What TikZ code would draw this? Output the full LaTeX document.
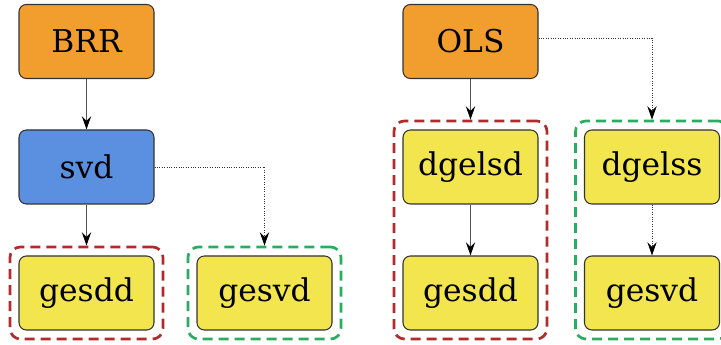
\documentclass[tikz,border=0pt]{standalone}
\usepackage{fontspec}
\setmainfont{DejaVu Serif}
\usetikzlibrary{arrows.meta,fit}
\definecolor{boxorange}{HTML}{F29E2E}
\definecolor{boxblue}{HTML}{5B8FE0}
\definecolor{boxyellow}{HTML}{F2E54E}
\definecolor{grpred}{HTML}{B22B2B}
\definecolor{grpgreen}{HTML}{28AE5E}
\definecolor{edgegray}{HTML}{555555}
\tikzset{
	func/.style={draw={black!80},line width=0.8pt,rounded corners=5.5pt,minimum width=101.25pt,minimum height=55.5pt,font=\fontsize{23.5}{28}\selectfont},
	grp/.style={draw=#1,line width=2pt,dash pattern=on 7.5pt off 4.5pt,rounded corners=8pt,inner sep=6.4pt},
	link/.style={-{Stealth[length=10pt,width=7pt,inset=3.5pt,black]},edgegray,line width=0.8pt},
	weak/.style={link,densely dotted,line width=0.6pt,black!80},
}
\begin{document}
\begin{tikzpicture}[x=0.75pt,y=-0.75pt]
	\useasboundingbox (0,0) rectangle (721,345);
	\clip (0,0) rectangle (721,345);

	\node[func,fill=boxorange] (BRR) at (86.5,41.5) {BRR};
	\node[func,fill=boxblue] (svd) at (86.5,167) {svd};
	\node[func,fill=boxyellow] (gesddA) at (86.5,293) {gesdd};
	\node[func,fill=boxyellow] (gesvdA) at (264.5,293) {gesvd};
	\node[grp=grpred,fit=(gesddA)] (redA) {};
	\node[grp=grpgreen,fit=(gesvdA)] (greenA) {};

	\node[func,fill=boxorange] (OLS) at (470.5,41.5) {OLS};
	\node[func,fill=boxyellow] (dgelsd) at (470.5,167) {dgelsd};
	\node[func,fill=boxyellow] (gesddB) at (470.5,293) {gesdd};
	\node[func,fill=boxyellow] (dgelss) at (652,167) {dgelss};
	\node[func,fill=boxyellow] (gesvdB) at (652,293) {gesvd};
	\node[grp=grpred,fit=(dgelsd)(gesddB)] (redB) {};
	\node[grp=grpgreen,fit=(dgelss)(gesvdB)] (greenB) {};

	\draw[link] (BRR) -- (svd);
	\draw[link] (svd) -- (redA.north);
	\draw[weak] (svd.east) -| (greenA.north);
	\draw[link] (OLS) -- (redB.north);
	\draw[weak] ([yshift=2.6pt]OLS.east) -| (greenB.north);
	\draw[link] (dgelsd) -- (gesddB);
	\draw[weak] (dgelss) -- (gesvdB);
\end{tikzpicture}
\end{document}
